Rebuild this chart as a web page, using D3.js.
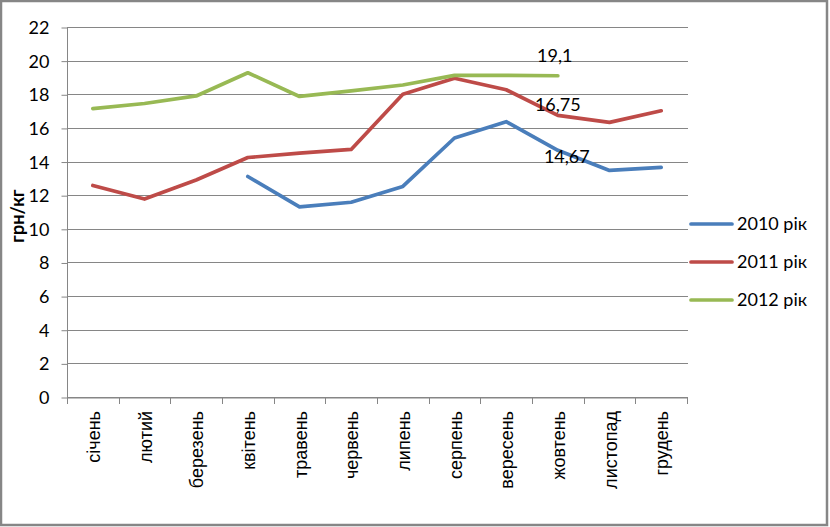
<!DOCTYPE html>
<html>
<head>
<meta charset="utf-8">
<script src="https://cdn.jsdelivr.net/npm/d3@7"></script>
<style>
  html, body { margin: 0; padding: 0; background: #fff; }
  svg { display: block; }
</style>
</head>
<body>
<svg id="chart" width="830" height="527"></svg>
<script>
const months = ["січень","лютий","березень","квітень","травень","червень","липень","серпень","вересень","жовтень","листопад","грудень"];
const series2010 = [null, null, null, 13.11, 11.3, 11.58, 12.52, 15.4, 16.37, 14.67, 13.47, 13.65];
const series2011 = [12.58, 11.77, 12.9, 14.24, 14.5, 14.72, 18.0, 18.95, 18.27, 16.75, 16.33, 17.02];
const series2012 = [17.15, 17.45, 17.9, 19.28, 17.87, 18.2, 18.55, 19.12, 19.12, 19.1, null, null];
const seriesNames = ["2010 рік", "2011 рік", "2012 рік"];
const seriesColors = ["#4A7EBB", "#BE4B48", "#98B954"];
const yTicks = [0, 2, 4, 6, 8, 10, 12, 14, 16, 18, 20, 22];
const dataLabels = [
  { series: 2, index: 9, text: "19,1", dx: -3, dy: -14 },
  { series: 1, index: 9, text: "16,75", dx: 0, dy: -4 },
  { series: 0, index: 9, text: "14,67", dx: 9, dy: 13 }
];

const allSeries = [series2010, series2011, series2012];
const svg = d3.select("#chart");
const W = 830, H = 527;
const plot = { left: 67, right: 687, top: 27, bottom: 397 };
const fontNum = "Lato, 'Open Sans', sans-serif";
const fontCat = "'Liberation Sans', Arial, sans-serif";

// outer border
svg.append("rect").attr("x", 1).attr("y", 1).attr("width", W - 4).attr("height", H - 3)
  .attr("fill", "#fff").attr("stroke", "#868686").attr("stroke-width", 2.5);

const x = d3.scaleBand().domain(months).range([plot.left, plot.right]).padding(0);
const y = d3.scaleLinear().domain([0, 22]).range([plot.bottom, plot.top]);

// gridlines
svg.append("g").selectAll("line").data(yTicks).join("line")
  .attr("x1", plot.left).attr("x2", plot.right + 1)
  .attr("y1", d => Math.round(y(d)) + 0.5).attr("y2", d => Math.round(y(d)) + 0.5)
  .attr("stroke", "#868686").attr("stroke-width", 1);

// y axis
const yAxis = svg.append("g").attr("transform", `translate(${plot.left + 0.5},0)`)
  .call(d3.axisLeft(y).tickValues(yTicks).tickSize(6).tickPadding(12).tickFormat(d3.format("d")));
yAxis.select(".domain").attr("stroke", "#868686").attr("d", `M0,${plot.top}V${plot.bottom}`);
yAxis.selectAll(".tick line").attr("stroke", "#868686").attr("transform", "translate(0,0.5)");
yAxis.selectAll(".tick text").attr("font-family", fontNum).attr("font-size", 18).attr("fill", "#000").attr("dy", "0.36em");

// x axis
const xAxis = svg.append("g").attr("transform", `translate(0,${plot.bottom + 0.5})`)
  .call(d3.axisBottom(x).tickSize(0).tickFormat(""));
xAxis.select(".domain").attr("stroke", "#868686");
svg.append("g").selectAll("line").data(months.concat(["end"])).join("line")
  .attr("x1", (d, i) => Math.round(plot.left + i * x.bandwidth()) + 0.5)
  .attr("x2", (d, i) => Math.round(plot.left + i * x.bandwidth()) + 0.5)
  .attr("y1", plot.bottom).attr("y2", plot.bottom + 7)
  .attr("stroke", "#868686");
svg.append("g").selectAll("text").data(months).join("text")
  .attr("transform", d => `translate(${x(d) + x.bandwidth() / 2 + 7},${plot.bottom + 14}) rotate(-90)`)
  .attr("text-anchor", "end")
  .attr("font-family", fontCat).attr("font-size", 18).attr("fill", "#000")
  .text(d => d);

// y axis title
svg.append("text")
  .attr("transform", `translate(24,216) rotate(-90)`)
  .attr("text-anchor", "middle")
  .attr("font-family", fontNum).attr("font-weight", "bold").attr("font-size", 18).attr("fill", "#000")
  .text("грн/кг");

// lines
const line = d3.line()
  .defined(d => d != null)
  .x((d, i) => x(months[i]) + x.bandwidth() / 2)
  .y(d => y(d));
allSeries.forEach((s, k) => {
  svg.append("path").datum(s)
    .attr("d", line)
    .attr("fill", "none").attr("stroke", seriesColors[k]).attr("stroke-width", 3.7)
    .attr("stroke-linejoin", "round").attr("stroke-linecap", "round");
});

// data labels
svg.append("g").selectAll("text").data(dataLabels).join("text")
  .attr("x", d => x(months[d.index]) + x.bandwidth() / 2 + d.dx)
  .attr("y", d => y(allSeries[d.series][d.index]) + d.dy)
  .attr("text-anchor", "middle")
  .attr("font-family", fontNum).attr("font-size", 18).attr("fill", "#000")
  .text(d => d.text);

// legend
const legend = svg.append("g").attr("transform", "translate(690,224)");
seriesNames.forEach((name, k) => {
  const g = legend.append("g").attr("transform", `translate(0,${k * 38})`);
  g.append("line").attr("x1", 1).attr("x2", 42).attr("y1", 0).attr("y2", 0)
    .attr("stroke", seriesColors[k]).attr("stroke-width", 3.7).attr("stroke-linecap", "round");
  g.append("text").attr("x", 47).attr("y", 0).attr("dy", "0.36em")
    .attr("font-family", fontNum).attr("font-size", 18).attr("fill", "#000")
    .text(name);
});
</script>
</body>
</html>
